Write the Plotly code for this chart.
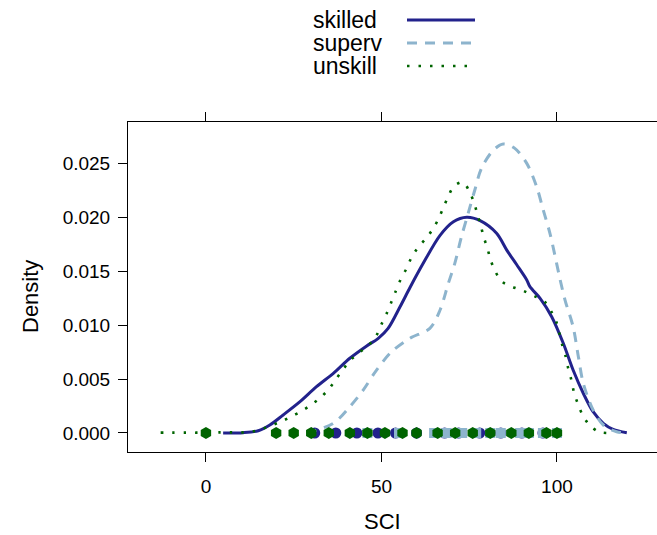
import plotly.graph_objects as go

# ---------------- data ----------------
groups = ["skilled", "superv", "unskill"]

skilled_x = [4.9, 10.6, 14.9, 18.2, 22.0, 26.8, 31.5, 36.3, 41.0, 45.8, 49.1, 51.9, 55.3, 58.1,
             61.9, 66.7, 70.5, 74.3, 78.1, 82.8, 85.7, 88.5, 91.4, 92.3, 95.2, 98.5, 101.8,
             104.6, 107.5, 110.3, 113.2, 116.0, 119.9]
skilled_y = [0.00000, 0.00003, 0.00021, 0.00074, 0.00167, 0.00290, 0.00429, 0.00553, 0.00692,
             0.00806, 0.00877, 0.00969, 0.01169, 0.01345, 0.01571, 0.01830, 0.01956, 0.01997,
             0.01966, 0.01849, 0.01694, 0.01560, 0.01417, 0.01355, 0.01247, 0.01077, 0.00831,
             0.00583, 0.00368, 0.00197, 0.00090, 0.00034, 0.00003]

superv_x = [28.7, 36.3, 41.0, 44.8, 48.6, 52.9, 58.1, 63.8, 66.7, 69.0, 70.9, 72.8, 74.7, 76.6,
            78.5, 81.9, 84.7, 88.0, 91.4, 94.2, 96.1, 98.0, 99.9, 100.9, 102.3, 104.6, 106.1,
            107.5, 110.3, 113.2, 117.0, 119.9]
superv_y = [0.00000, 0.00090, 0.00244, 0.00398, 0.00583, 0.00753, 0.00877, 0.00969, 0.01139,
            0.01380, 0.01571, 0.01818, 0.02034, 0.02250, 0.02451, 0.02620, 0.02676, 0.02636,
            0.02497, 0.02281, 0.02065, 0.01849, 0.01571, 0.01420, 0.01231, 0.00984, 0.00707,
            0.00460, 0.00213, 0.00074, 0.00012, 0.00003]

unskill_x = [-12.9, -9.5, -6.1, -2.6, 4.2, 7.6, 11.0, 14.4, 17.7, 20.9, 23.9, 27.1, 29.9, 32.6,
             35.0, 37.0, 39.1, 41.2, 43.9, 46.5, 48.6, 50.0, 51.5, 52.8, 54.1, 55.4, 57.1, 58.5,
             60.3, 62.6, 64.6, 66.2, 67.6, 69.0, 70.7, 73.2, 75.0, 76.3, 77.3, 78.3, 79.1, 80.2,
             81.1, 82.4, 84.2, 87.2, 90.3, 93.4, 96.5, 98.4, 99.8, 100.7, 101.5, 102.5, 103.2,
             104.1, 104.8, 105.9, 107.2, 109.1, 111.8, 114.5]
unskill_y = [0.00003, 0.00003, 0.00003, 0.00003, 0.00006, 0.00006, 0.00006, 0.00021, 0.00058,
             0.00099, 0.00145, 0.00201, 0.00259, 0.00327, 0.00407, 0.00497, 0.00590, 0.00676,
             0.00750, 0.00818, 0.00905, 0.01006, 0.01108, 0.01210, 0.01315, 0.01417, 0.01521,
             0.01620, 0.01713, 0.01799, 0.01886, 0.01981, 0.02083, 0.02188, 0.02287, 0.02321,
             0.02241, 0.02139, 0.02031, 0.01920, 0.01818, 0.01710, 0.01602, 0.01500, 0.01405,
             0.01355, 0.01318, 0.01271, 0.01216, 0.01123, 0.01031, 0.00923, 0.00815, 0.00707,
             0.00599, 0.00491, 0.00382, 0.00275, 0.00173, 0.00080, 0.00012, 0.00000]

# rug (observed SCI values)
skilled_pts = [31, 37, 43, 49, 54, 60, 68, 72, 78, 84, 90, 96]
superv_pts = [46, 55, 65, 68.6, 73, 77, 81, 84, 89.5, 92, 96, 100]
unskill_pts = [0, 20, 25, 30, 35, 41, 46, 51, 56, 60, 66, 71, 76, 81, 87, 92, 97, 100]

x_ticks = [0, 50, 100]
y_ticks = [0.000, 0.005, 0.010, 0.015, 0.020, 0.025]

# ---------------- style ----------------
W, H = 657, 535
L, R, T, B = 128, 0, 122, 83
col = {"skilled": "#22228C", "superv": "#8DB4CD", "unskill": "#006400"}
dash = {"skilled": "solid", "superv": "10px,8px", "unskill": "2.5px,9px"}
lw = {"skilled": 3, "superv": 3, "unskill": 2.6}
sym = {"skilled": "circle", "superv": "square", "unskill": "hexagon"}
msz = {"skilled": 11, "superv": 10, "unskill": 12}
FONT = "Liberation Sans, Arial, sans-serif"

curves = {"skilled": (skilled_x, skilled_y),
          "superv": (superv_x, superv_y),
          "unskill": (unskill_x, unskill_y)}
pts = {"skilled": skilled_pts, "superv": superv_pts, "unskill": unskill_pts}

fig = go.Figure()
for g in groups:
    cx, cy = curves[g]
    fig.add_trace(go.Scatter(x=cx, y=cy, mode="lines", showlegend=False, hoverinfo="skip",
                             line=dict(color=col[g], width=lw[g], dash=dash[g], shape="spline",
                                       smoothing=0.9)))
    fig.add_trace(go.Scatter(x=pts[g], y=[0] * len(pts[g]), mode="markers", showlegend=False,
                             marker=dict(symbol=sym[g], size=msz[g], color=col[g],
                                         line=dict(width=0))))

xr = [-22.2, 128.5]
yr = [-0.00176, 0.0288]
pw, ph = W - L - R, H - T - B


def px_to_paper(px, py):
    return (px - L) / pw, (H - B - py) / ph


# manual key (text then line sample), as lattice draws it
key_rows = [20, 43, 66]
annotations = []
shapes = []
for g, yy in zip(groups, key_rows):
    ax, ay = px_to_paper(311, yy)
    annotations.append(dict(x=ax, y=ay, xref="paper", yref="paper", text=g, showarrow=False,
                            xanchor="left", yanchor="middle",
                            font=dict(family=FONT, size=23, color="black")))
    x0, y0 = px_to_paper(407, yy)
    x1, _ = px_to_paper(475, yy)
    shapes.append(dict(type="line", xref="paper", yref="paper", x0=x0, x1=x1, y0=y0, y1=y0,
                       line=dict(color=col[g], width=lw[g], dash=dash[g])))

# axis titles
tx, ty = px_to_paper(382, 521)
annotations.append(dict(x=tx, y=ty, xref="paper", yref="paper", text="SCI", showarrow=False,
                        xanchor="center", yanchor="middle",
                        font=dict(family=FONT, size=22, color="black")))
tx, ty = px_to_paper(30, 297)
annotations.append(dict(x=tx, y=ty, xref="paper", yref="paper", text="Density", showarrow=False,
                        textangle=-90, xanchor="center", yanchor="middle",
                        font=dict(family=FONT, size=22, color="black")))

fig.update_layout(
    width=W, height=H, margin=dict(l=L, r=R, t=T, b=B, pad=0, autoexpand=False),
    paper_bgcolor="white", plot_bgcolor="white",
    showlegend=False, annotations=annotations, shapes=shapes,
    font=dict(family=FONT, color="black"),
    xaxis=dict(range=xr, tickvals=x_ticks, ticktext=[str(v) for v in x_ticks],
               showgrid=False, zeroline=False, showline=True, linecolor="black", linewidth=1,
               mirror="ticks", ticks="outside", ticklen=9, tickcolor="black", tickwidth=1,
               tickfont=dict(family=FONT, size=19), ticklabelstandoff=8, automargin=False),
    yaxis=dict(range=yr, tickvals=y_ticks, ticktext=["%.3f" % v for v in y_ticks],
               showgrid=False, zeroline=False, showline=True, linecolor="black", linewidth=1,
               mirror=False, ticks="outside", ticklen=9, tickcolor="black", tickwidth=1,
               tickfont=dict(family=FONT, size=19), ticklabelstandoff=4, automargin=False),
)

fig.write_html("out.html")
